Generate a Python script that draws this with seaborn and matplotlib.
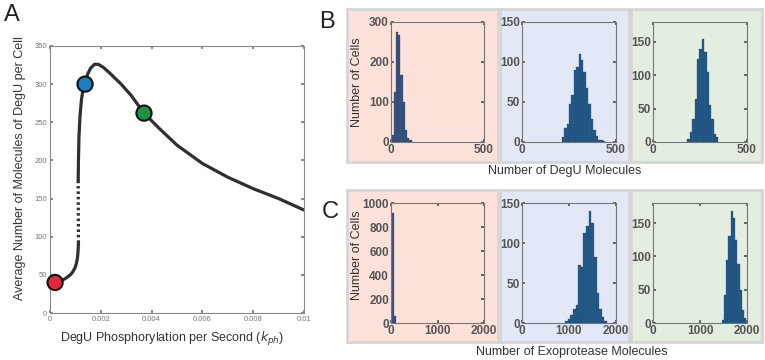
import numpy as np
import pandas as pd
import seaborn as sns
import matplotlib as mpl
mpl.use("Agg")
import matplotlib.pyplot as plt

sns.set_theme(style="white")
plt.rcParams['font.family'] = ['Liberation Sans', 'DejaVu Sans']

# ---- panel A: steady state curve ----
low_x = [0.0002, 0.0004, 0.0006, 0.0008, 0.0009, 0.00098, 0.00104, 0.00108, 0.0011,
         0.00111, 0.00112]
low_y = [40, 42, 45, 50, 54, 59, 65, 72, 79, 85, 92]
unstable_x = [0.00112, 0.00111]
unstable_y = [92, 172]
high_x = [0.00111, 0.00112, 0.00114, 0.00118, 0.00124, 0.0013, 0.00138, 0.00148, 0.0016,
          0.00175, 0.0019, 0.0021, 0.0024, 0.0028, 0.0032, 0.0037, 0.0043, 0.005, 0.006,
          0.007, 0.008, 0.009, 0.01]
high_y = [172, 200, 230, 258, 280, 293, 302, 313, 321, 326, 326, 322, 313, 300, 285, 262,
          242, 220, 196, 178, 163, 150, 135]
dot_x = [0.0002, 0.00138, 0.0037]
dot_y = [40, 300, 262]
dot_colors = ['#e3283c', '#1b7fc4', '#1b9347']

# ---- panels B, C: histograms (bin edge start, bin width, counts) ----
degu_start = [3, 211, 183]
degu_width = [12, 12.9, 12.7]
degu_counts = [
    [17, 124, 275, 267, 168, 101, 29, 11, 4],
    [6, 18, 23, 48, 59, 90, 94, 110, 103, 88, 67, 48, 29, 15, 7, 3, 2, 1],
    [4, 15, 35, 65, 125, 140, 155, 135, 105, 55, 35, 12, 7],
]
exo_start = [0, 915, 1461]
exo_width = [55, 56, 48]
exo_counts = [
    [917, 58],
    [2, 5, 10, 18, 22, 72, 70, 113, 121, 140, 125, 83, 38, 17, 7, 2],
    [5, 42, 95, 130, 168, 158, 125, 88, 50, 20, 8],
]
degu_ylim = [300, 150, 180]
exo_ylim = [1000, 150, 180]
degu_yticks = [[0, 100, 200, 300], [0, 50, 100, 150], [0, 50, 100, 150]]
exo_yticks = [[0, 200, 400, 600, 800, 1000], [0, 50, 100, 150], [0, 50, 100, 150]]

W, H = 765, 360
fig = plt.figure(figsize=(W / 100, H / 100), dpi=100)


def fbox(x0, y0, x1, y1):
    return [x0 / W, 1 - y1 / H, (x1 - x0) / W, (y1 - y0) / H]


# background panels (added first so the histograms sit on top)
bg_cols = ['#fce2da', '#e2e8f5', '#e3ede0']
bg_x = [(347, 498), (500, 629), (631, 762)]
for (y0, y1) in [(9, 162), (190, 342)]:
    for (x0, x1), c in zip(bg_x, bg_cols):
        bg = fig.add_axes(fbox(x0, y0, x1, y1))
        bg.set_facecolor(c)
        bg.set_xticks([])
        bg.set_yticks([])
        for s in bg.spines.values():
            s.set_color('#d6d6d6')
            s.set_linewidth(2)

# ---- panel A ----
ax = fig.add_axes(fbox(50, 46, 304, 313))
line_c = '#2f2f2f'
sns.lineplot(x=low_x, y=low_y, sort=False, estimator=None, color=line_c, lw=2.3, ax=ax)
sns.lineplot(x=high_x, y=high_y, sort=False, estimator=None, color=line_c, lw=2.3, ax=ax)
sns.lineplot(x=unstable_x, y=unstable_y, sort=False, estimator=None, color=line_c, lw=2.3,
             ax=ax, linestyle=(0, (0.8, 0.9)))
sns.scatterplot(x=dot_x, y=dot_y, hue=['r', 'b', 'g'], palette=dot_colors, s=120,
                edgecolor='#111111', linewidth=1.5, legend=False, ax=ax, zorder=5, clip_on=False)
ax.set_xlim(0, 0.01)
ax.set_ylim(0, 350)
ax.set_xticks([0, 0.002, 0.004, 0.006, 0.008, 0.01])
ax.set_xticklabels(['0', '0.002', '0.004', '0.006', '0.008', '0.01'])
ax.set_yticks(range(0, 351, 50))
ax.tick_params(direction='in', length=2, labelsize=5.5, colors='#777777', pad=2,
               top=True, right=True, bottom=True, left=True)
for s in ax.spines.values():
    s.set_color('#888888')
    s.set_linewidth(0.8)
fig.text(20 / W, 1 - 168 / H, 'Average Number of Molecules of DegU per Cell', rotation=90,
         ha='center', va='center', fontsize=9, color='#333333')
fig.text(172 / W, 1 - 339 / H, 'DegU Phosphorylation per Second ($k_{ph}$)',
         ha='center', va='center', fontsize=9, color='#333333')
fig.text(12 / W, 1 - 15 / H, 'A', ha='center', va='center', fontsize=17, color='#222222')

# ---- panels B, C ----
ax_x = [(391, 484), (522, 616), (653, 747)]
rows = [
    ((22, 142), degu_start, degu_width, degu_counts, degu_ylim, degu_yticks, 500, [0, 500]),
    ((203, 323), exo_start, exo_width, exo_counts, exo_ylim, exo_yticks, 2000, [0, 1000, 2000]),
]
bar_cols = ['#3a5280', '#235a87', '#235a87']
for (y0, y1), starts, widths, counts, ylims, yticks, xmax, xticks in rows:
    for i, (x0, x1) in enumerate(ax_x):
        a = fig.add_axes(fbox(x0, y0, x1, y1))
        a.set_facecolor('none')
        edges = [starts[i] + widths[i] * k for k in range(len(counts[i]) + 1)]
        df = pd.DataFrame({'mid': [(edges[k] + edges[k + 1]) / 2 for k in range(len(counts[i]))],
                           'n': counts[i]})
        sns.histplot(data=df, x='mid', weights='n', bins=edges, color=bar_cols[i],
                     edgecolor='#1e4670', linewidth=0.2, alpha=1, ax=a)
        a.set_xlim(0, xmax)
        a.set_ylim(0, ylims[i])
        a.set_xticks(xticks)
        a.set_yticks(yticks[i])
        a.set_xlabel('')
        a.set_ylabel('')
        a.tick_params(direction='in', length=2, labelsize=8.5, colors='#555555', pad=1.5,
                      top=True, right=True, bottom=True, left=True)
        for lab in a.get_xticklabels() + a.get_yticklabels():
            lab.set_fontweight('bold')
        for s in a.spines.values():
            s.set_color('#777777')
            s.set_linewidth(0.8)

fig.text(357 / W, 1 - 82 / H, 'Number of Cells', rotation=90, ha='center', va='center',
         fontsize=9, color='#333333')
fig.text(357 / W, 1 - 255 / H, 'Number of Cells', rotation=90, ha='center', va='center',
         fontsize=9, color='#333333')
fig.text(565 / W, 1 - 171 / H, 'Number of DegU Molecules', ha='center', va='center',
         fontsize=9, color='#333333')
fig.text(572 / W, 1 - 352 / H, 'Number of Exoprotease Molecules', ha='center', va='center',
         fontsize=9, color='#333333')
fig.text(327 / W, 1 - 22 / H, 'B', ha='center', va='center', fontsize=17, color='#222222')
fig.text(330 / W, 1 - 212 / H, 'C', ha='center', va='center', fontsize=17, color='#222222')

fig.savefig('out.png', dpi=100)
